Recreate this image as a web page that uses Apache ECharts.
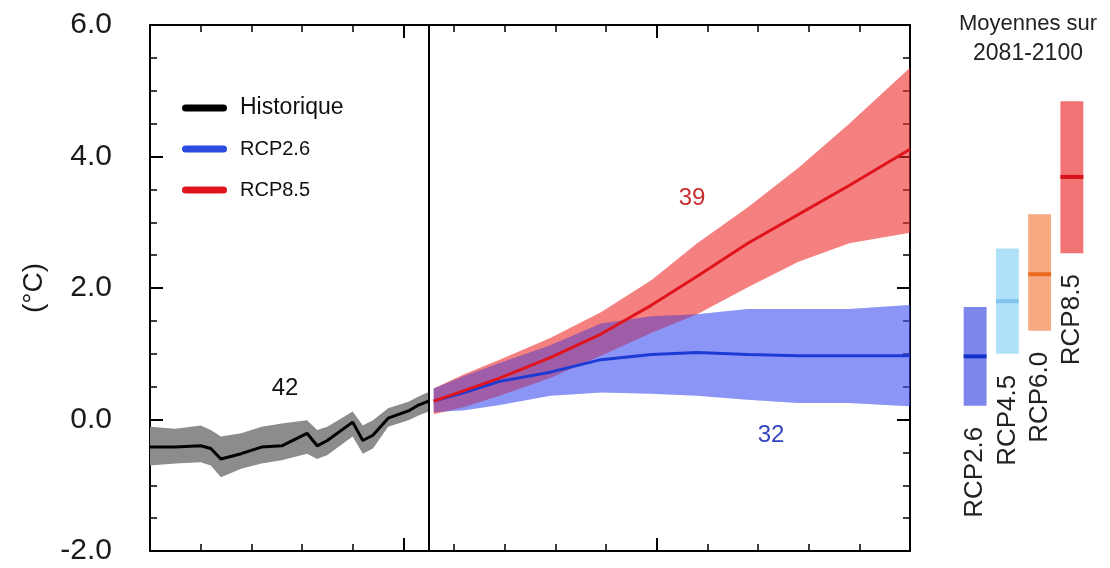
<!DOCTYPE html>
<html><head><meta charset="utf-8">
<script src="https://cdn.jsdelivr.net/npm/echarts@6/dist/echarts.min.js"></script>
<style>html,body{margin:0;padding:0;background:#fff}#c{width:1110px;height:568px}</style>
</head><body><div id="c"></div>
<script>
// ---- Data ----
const histYears = [1950, 1955, 1960, 1962, 1964, 1968, 1972, 1976, 1981, 1983, 1985, 1990, 1992, 1994, 1997, 2001, 2003, 2005];
const histMean  = [-0.42, -0.42, -0.40, -0.44, -0.60, -0.52, -0.42, -0.40, -0.21, -0.40, -0.32, -0.04, -0.32, -0.24, 0.02, 0.13, 0.22, 0.28];
const histHigh  = [-0.11, -0.14, -0.09, -0.16, -0.26, -0.21, -0.11, -0.06, -0.01, -0.16, -0.11, 0.12, -0.09, -0.01, 0.17, 0.27, 0.35, 0.42];
const histLow   = [-0.70, -0.67, -0.65, -0.70, -0.88, -0.75, -0.67, -0.62, -0.52, -0.60, -0.54, -0.26, -0.52, -0.44, -0.11, -0.01, 0.06, 0.12];

const futYears   = [2006, 2012, 2019, 2029, 2039, 2049, 2058, 2068, 2078, 2088, 2100];
const rcp85Mean  = [0.28, 0.44, 0.63, 0.94, 1.30, 1.74, 2.18, 2.68, 3.12, 3.56, 4.11];
const rcp85High  = [0.47, 0.69, 0.91, 1.24, 1.63, 2.12, 2.68, 3.23, 3.83, 4.50, 5.35];
const rcp85Low   = [0.08, 0.19, 0.36, 0.63, 0.97, 1.32, 1.60, 2.01, 2.40, 2.68, 2.84];
const rcp26Mean  = [0.28, 0.41, 0.58, 0.72, 0.91, 0.99, 1.02, 0.99, 0.97, 0.97, 0.97];
const rcp26High  = [0.47, 0.66, 0.86, 1.13, 1.46, 1.57, 1.60, 1.68, 1.68, 1.68, 1.74];
const rcp26Low   = [0.11, 0.14, 0.22, 0.36, 0.41, 0.39, 0.36, 0.30, 0.25, 0.25, 0.20];

const yTicks = [-2, 0, 2, 4, 6];
const modelCounts = ['42', '39', '32'];

const barCats = ['RCP2.6', 'RCP4.5', 'RCP6.0', 'RCP8.5'];
const barLow  = [0.21, 1.00, 1.35, 2.53];
const barMean = [0.96, 1.80, 2.21, 3.69];
const barHigh = [1.71, 2.60, 3.12, 4.84];

// ---- Styles ----
const FONT = '"Liberation Sans", Arial, Helvetica, sans-serif';
const barFill = ['#7d87eb', '#afe1f8', '#f7aa82', '#f27373'];
const barLine = ['#1530c8', '#7ec4ec', '#ec6a20', '#d8101a'];
const capsule = 'path://M3.5,0H41.5A3.5,3.5,0,0,1,41.5,7H3.5A3.5,3.5,0,0,1,3.5,0Z';

function band(years, high, low, fill, z) {
  return {
    type: 'custom', xAxisIndex: 0, yAxisIndex: 0, silent: true, z: z,
    data: years.map((y, i) => [y, low[i], high[i]]),
    encode: { x: 0, y: [1, 2] },
    renderItem: function (params, api) {
      if (params.dataIndex !== 0) return null;
      const up = years.map((y, i) => api.coord([y, high[i]]));
      const dn = years.map((y, i) => api.coord([y, low[i]])).reverse();
      return { type: 'polygon', shape: { points: up.concat(dn) }, style: { fill: fill } };
    }
  };
}

function mainXAxis(pos) {
  return {
    type: 'value', gridIndex: 0, position: pos, min: 1950, max: 2100, interval: 50,
    axisLine: { onZero: false, lineStyle: { color: '#000', width: 2 } },
    axisTick: { inside: true, length: 13, lineStyle: { color: '#000', width: 2 } },
    minorTick: { show: true, splitNumber: 5, length: 7, lineStyle: { color: '#000', width: 1.5 } },
    axisLabel: { show: false }, splitLine: { show: false }, minorSplitLine: { show: false }
  };
}
function mainYAxis(pos, labels) {
  return {
    type: 'value', gridIndex: 0, position: pos, min: yTicks[0], max: yTicks[yTicks.length - 1], interval: 2,
    axisLine: { onZero: false, lineStyle: { color: '#000', width: 2 } },
    axisTick: { inside: true, length: 13, lineStyle: { color: '#000', width: 2 } },
    minorTick: { show: true, splitNumber: 4, length: 7, lineStyle: { color: '#000', width: 1.5 } },
    axisLabel: { show: labels, margin: 38, fontSize: 30, fontFamily: FONT, color: '#1a1a1a',
      formatter: v => v.toFixed(1) },
    splitLine: { show: false }, minorSplitLine: { show: false },
    name: labels ? '(°C)' : '', nameLocation: 'middle', nameRotate: 90, nameGap: 102,
    nameTextStyle: { fontSize: 28, fontFamily: FONT, color: '#1a1a1a' }
  };
}

const option = {
  backgroundColor: '#fff',
  animation: false,
  grid: [
    { left: 150, right: 200, top: 25, bottom: 17, outerBoundsMode: 'none' },
    { left: 959, width: 129, top: 25, bottom: 17, outerBoundsMode: 'none' }
  ],
  xAxis: [
    mainXAxis('bottom'),
    mainXAxis('top'),
    { type: 'category', gridIndex: 1, data: barCats, show: false }
  ],
  yAxis: [
    mainYAxis('left', true),
    mainYAxis('right', false),
    { type: 'value', gridIndex: 1, min: -2, max: 6, show: false }
  ],
  legend: {
    orient: 'vertical', left: 177, top: 91, itemWidth: 45, itemHeight: 7, itemGap: 17,
    selectedMode: false,
    textStyle: { fontFamily: FONT, color: '#111', fontSize: 20, lineHeight: 24, padding: [0, 0, 0, 8] },
    data: [
      { name: 'Historique', icon: capsule, textStyle: { fontSize: 23 } },
      { name: 'RCP2.6', icon: capsule },
      { name: 'RCP8.5', icon: capsule }
    ]
  },
  graphic: [
    { type: 'text', x: 285, y: 388, style: { text: modelCounts[0], fontSize: 24, fontFamily: FONT, fill: '#111', align: 'center', verticalAlign: 'middle' } },
    { type: 'text', x: 692, y: 198, style: { text: modelCounts[1], fontSize: 24, fontFamily: FONT, fill: '#c83030', align: 'center', verticalAlign: 'middle' } },
    { type: 'text', x: 771, y: 435, style: { text: modelCounts[2], fontSize: 24, fontFamily: FONT, fill: '#3344c0', align: 'center', verticalAlign: 'middle' } },
    { type: 'text', x: 1028, y: 24, style: { text: 'Moyennes sur', fontSize: 22, fontFamily: FONT, fill: '#222', align: 'center', verticalAlign: 'middle' } },
    { type: 'text', x: 1028, y: 54, style: { text: '2081-2100', fontSize: 23, fontFamily: FONT, fill: '#222', align: 'center', verticalAlign: 'middle' } }
  ],
  series: [
    band(histYears, histHigh, histLow, '#8c8c8c', 1),
    band(futYears, rcp26High, rcp26Low, 'rgba(63,80,238,0.37)', 2),
    band(futYears, rcp85High, rcp85Low, 'rgba(238,43,43,0.6)', 3),
    band(futYears, rcp26High, rcp26Low, 'rgba(63,80,238,0.37)', 4),
    {
      name: 'Historique', type: 'line', xAxisIndex: 0, yAxisIndex: 0, z: 10,
      data: histYears.map((y, i) => [y, histMean[i]]), showSymbol: false, silent: true,
      lineStyle: { color: '#000', width: 3 }, itemStyle: { color: '#000' },
      markLine: { silent: true, symbol: ['none', 'none'], label: { show: false },
        lineStyle: { color: '#000', width: 2, type: 'solid' }, data: [{ xAxis: 2005 }] }
    },
    {
      name: 'RCP2.6', type: 'line', xAxisIndex: 0, yAxisIndex: 0, z: 11,
      data: futYears.map((y, i) => [y, rcp26Mean[i]]), showSymbol: false, silent: true,
      lineStyle: { color: '#1c3ad4', width: 3 }, itemStyle: { color: '#2a4be0' }
    },
    {
      name: 'RCP8.5', type: 'line', xAxisIndex: 0, yAxisIndex: 0, z: 12,
      data: futYears.map((y, i) => [y, rcp85Mean[i]]), showSymbol: false, silent: true,
      lineStyle: { color: '#e0141c', width: 3 }, itemStyle: { color: '#e0141c' }
    },
    {
      type: 'custom', xAxisIndex: 2, yAxisIndex: 2, silent: true,
      data: barCats.map((c, i) => [i, barLow[i], barMean[i], barHigh[i]]),
      encode: { x: 0, y: [1, 3] },
      renderItem: function (params, api) {
        const i = api.value(0);
        const top = api.coord([i, api.value(3)]);
        const bot = api.coord([i, api.value(1)]);
        const mid = api.coord([i, api.value(2)]);
        const w = api.size([1, 0])[0] * 0.71;
        return { type: 'group', children: [
          { type: 'rect', shape: { x: top[0] - w / 2, y: top[1], width: w, height: bot[1] - top[1] }, style: { fill: barFill[i] } },
          { type: 'rect', shape: { x: top[0] - w / 2, y: mid[1] - 2, width: w, height: 4 }, style: { fill: barLine[i] } },
          { type: 'text', x: bot[0], y: bot[1] + 21, rotation: Math.PI / 2,
            style: { text: barCats[i], fontSize: 26, fontFamily: FONT, fill: '#222', align: 'right', verticalAlign: 'middle' } }
        ] };
      }
    }
  ]
};

const chart = echarts.init(document.getElementById('c'), null, { renderer: 'canvas' });
chart.setOption(option);
</script>
</body></html>
